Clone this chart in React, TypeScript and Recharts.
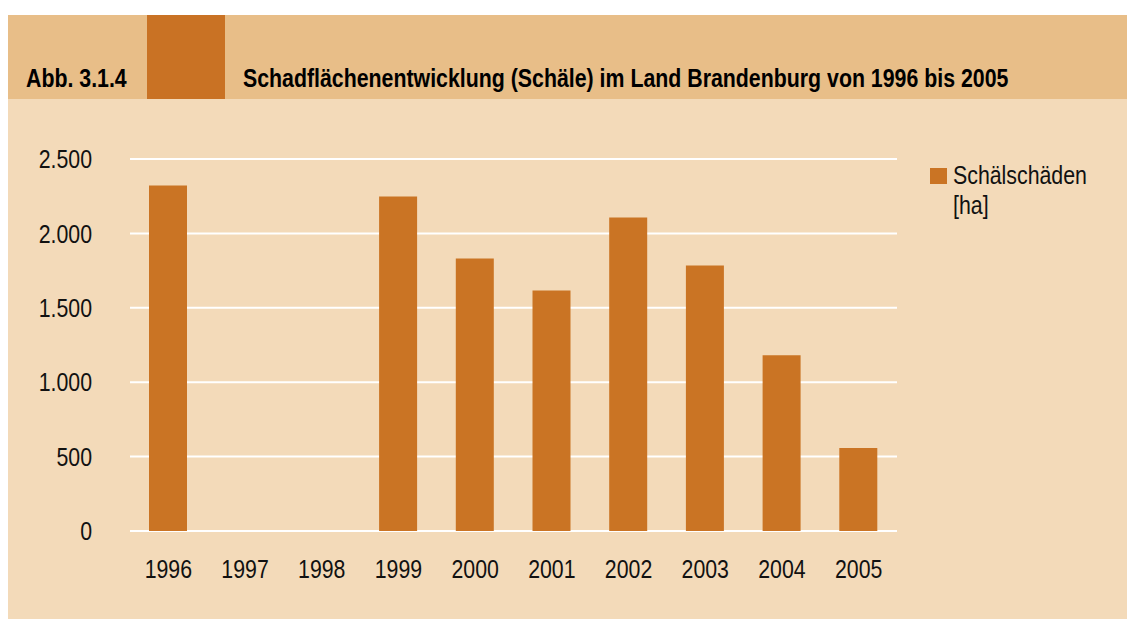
import React from "react";
import { BarChart, Bar, XAxis, YAxis, CartesianGrid, Legend } from "recharts";

const years = ["1996", "1997", "1998", "1999", "2000", "2001", "2002", "2003", "2004", "2005"];
const schaelschaeden: (number | null)[] = [2322, null, null, 2248, 1832, 1617, 2107, 1785, 1181, 557];
const yTicks = [0, 500, 1000, 1500, 2000, 2500];
const seriesName = "Schälschäden [ha]";
const figureLabel = "Abb. 3.1.4";
const title = "Schadflächenentwicklung (Schäle) im Land Brandenburg von 1996 bis 2005";

const data = years.map((y, i) => ({ year: y, value: schaelschaeden[i] }));

const FONT = "'Liberation Sans', Arial, sans-serif";
const NARROW = 0.82;
const BAR = "#CA7424";
const BAND = "#E8BE88";
const DARK = "#C97224";
const BG = "#F3DAB9";
const TEXT = "#111";

const fmt = (v: number) => v.toLocaleString("de-DE");

const YTick = (props: any) => {
  const { x, y, payload } = props;
  return (
    <g transform={`translate(${x},${y})`}>
      <text transform={`scale(${NARROW},1)`} textAnchor="end" dy="0.355em" fontFamily={FONT} fontSize={26} fill={TEXT}>
        {fmt(payload.value)}
      </text>
    </g>
  );
};

const XTick = (props: any) => {
  const { x, y, payload } = props;
  return (
    <g transform={`translate(${x},${y})`}>
      <text transform={`scale(${NARROW},1)`} textAnchor="middle" dy="0.71em" fontFamily={FONT} fontSize={26} fill={TEXT}>
        {payload.value}
      </text>
    </g>
  );
};

const LegendContent = () => (
  <div style={{ fontFamily: FONT, fontSize: 26, color: TEXT, lineHeight: "30px", display: "flex" }}>
    <div style={{ width: 17, height: 16, background: BAR, marginTop: 8, marginRight: 6, flex: "none" }} />
    <div style={{ transform: `scaleX(${NARROW})`, transformOrigin: "left top", whiteSpace: "nowrap" }}>
      Schälschäden
      <br />
      [ha]
    </div>
  </div>
);

const headStyle: React.CSSProperties = {
  position: "absolute",
  top: 48,
  fontFamily: FONT,
  fontWeight: "bold",
  fontSize: 26,
  lineHeight: "30px",
  color: "#000",
  whiteSpace: "nowrap",
  transform: `scaleX(${NARROW})`,
  transformOrigin: "left top",
};

export default function App() {
  return (
    <div style={{ position: "fixed", left: 8, top: 15, width: 1119, height: 604, background: BG, overflow: "hidden" }}>
      <div style={{ position: "absolute", left: 0, top: 0, width: 1119, height: 84, background: BAND }} />
      <div style={{ position: "absolute", left: 139, top: 0, width: 78, height: 84, background: DARK }} />
      <div style={{ ...headStyle, left: 18 }}>{figureLabel}</div>
      <div style={{ ...headStyle, left: 235 }}>{title}</div>
      <div style={{ position: "absolute", left: 0, top: 84 }}>
        <BarChart
          width={1119}
          height={520}
          data={data}
          margin={{ top: 60, right: 230, left: 0, bottom: 58 }}
          barSize={38}
        >
          <CartesianGrid horizontal vertical={false} stroke="#FFFFFF" strokeWidth={2} />
          <XAxis
            dataKey="year"
            axisLine={false}
            tickLine={false}
            tickSize={0}
            tickMargin={29}
            height={30}
            interval={0}
            tick={<XTick />}
          />
          <YAxis
            domain={[0, 2500]}
            ticks={yTicks}
            axisLine={false}
            tickLine={false}
            tickSize={0}
            tickMargin={38}
            width={122}
            tick={<YTick />}
          />
          <Legend
            layout="horizontal"
            verticalAlign="middle"
            align="center"
            content={<LegendContent />}
            wrapperStyle={{ position: "absolute", left: 922, top: 61, width: 190, height: 70 }}
          />
          <Bar dataKey="value" name={seriesName} fill={BAR} isAnimationActive={false} />
        </BarChart>
      </div>
    </div>
  );
}
